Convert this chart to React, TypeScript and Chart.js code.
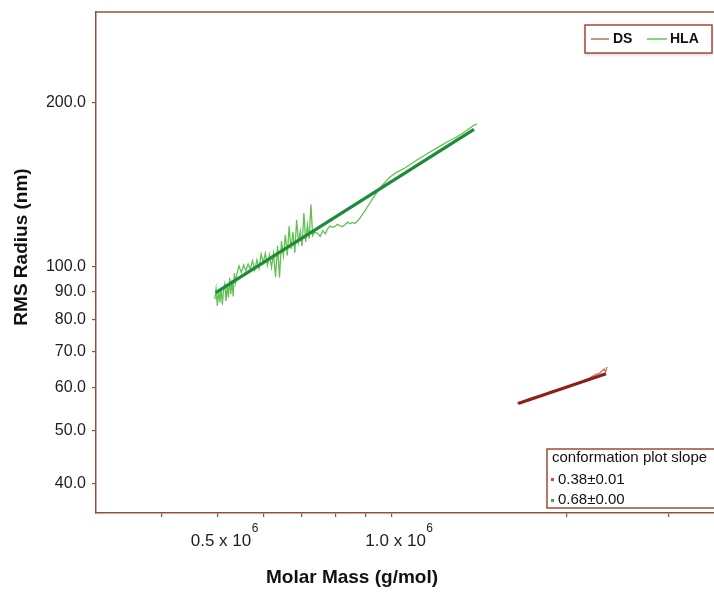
import React, { useEffect, useRef } from "react";
import { Chart, registerables } from "chart.js";

Chart.register(...registerables);

// Molar mass in units of 10^6 g/mol, RMS radius in nm
const hlaMass = [
  0.495, 0.4975, 0.5, 0.5025, 0.505, 0.5075, 0.51, 0.5125, 0.515, 0.5175, 0.52, 0.5225, 0.525, 0.5275, 0.53,
  0.5325, 0.535, 0.5375, 0.54, 0.545, 0.55, 0.555, 0.56, 0.565, 0.57,
  0.575, 0.58, 0.585, 0.59, 0.595, 0.6, 0.605, 0.61, 0.615, 0.62, 0.625, 0.63, 0.635, 0.64, 0.645, 0.65,
  0.655, 0.66, 0.665, 0.67, 0.675, 0.68, 0.685, 0.69, 0.695, 0.7, 0.705, 0.71, 0.715, 0.72, 0.725, 0.73,
  0.735, 0.745, 0.752, 0.76, 0.768, 0.775, 0.782, 0.79, 0.798, 0.805, 0.813, 0.822, 0.83, 0.838, 0.846,
  0.855, 0.863, 0.872, 0.881, 0.898, 0.916, 0.935, 0.954, 0.973, 0.992, 1.02, 1.053, 1.104, 1.163, 1.21,
  1.244, 1.284, 1.326, 1.363, 1.385, 1.401,
];
const hlaRadius = [
  87.2, 91.0, 84.8, 90.2, 86.0, 91.5, 85.2, 90.8, 93.0, 86.5, 92.8, 87.8, 95.4, 89.0, 94.6,
  88.2, 97.4, 93.5, 96.8, 100.3, 97.5, 100.7, 98.3, 101.1, 99.0,
  102.6, 98.6, 102.9, 99.2, 105.5, 101.7, 105.8, 100.6, 105.2, 99.7, 105.8, 95.8, 109.3, 95.6, 111.4, 104.7,
  114.5, 104.9, 118.6, 107.8, 115.8, 106.1, 122.0, 110.9, 116.2, 109.1, 125.5, 111.1, 119.4, 112.6, 130.0, 114.1,
  115.6, 115.2, 113.6, 116.4, 114.9, 117.5, 118.8, 118.1, 118.6, 119.6, 119.0, 118.5, 119.4, 120.7, 119.9,
  120.6, 120.0, 121.2, 122.9, 126.5, 130.9, 135.4, 139.5, 143.0, 146.1, 149.2, 151.8, 157.0, 162.4, 166.5,
  169.4, 172.3, 176.0, 179.7, 182.0, 182.8,
];
const hlaFitMass = [0.497, 1.385];
const hlaFitRadius = [89.6, 178.7];

const dsMass = [
  1.643, 1.67, 1.696, 1.73, 1.764, 1.8, 1.835, 1.872, 1.91, 1.948, 1.987, 2.028, 2.068, 2.11, 2.151,
  2.195, 2.239, 2.284, 2.32, 2.335, 2.348,
];
const dsRadius = [
  56.2, 56.5, 56.8, 57.3, 57.7, 58.0, 58.3, 58.9, 59.3, 59.6, 60.0, 60.5, 60.9, 61.3, 61.9,
  62.5, 63.3, 63.8, 64.9, 64.2, 65.5,
];
const dsFitMass = [1.651, 2.339];
const dsFitRadius = [56.1, 63.6];

const seriesNames = ["DS", "HLA"];
const slopeTitle = "conformation plot slope";
const slopeTexts = ["0.38\u00b10.01", "0.68\u00b10.00"];

const xTicks = [0.4, 0.5, 0.6, 0.7, 0.8, 0.9, 1, 2, 3];
const xLabeledTicks = [0.5, 1.0];
const xLabelTexts = ["0.5 x 10", "1.0 x 10"];
const xExponent = "6";
const yTicks = [40, 50, 60, 70, 80, 90, 100, 200];

const X_MIN = 0.3089;
const X_MAX = 3.591;
const Y_MIN = 35.31;
const Y_MAX = 293.5;

const FONT = '"Liberation Sans", Arial, Helvetica, sans-serif';
const AXIS = "#8f5040";
const HLA_RAW = "#62c050";
const HLA_FIT = "#1d8b3b";
const DS_RAW = "#c9685e";
const DS_FIT = "#8a2216";
const DS_LEG = "#c9918a";
const HLA_LEG = "#86d486";

const toPts = (xs: number[], ys: number[]) => xs.map((x, i) => ({ x, y: ys[i] }));

const zeroPad = (s: any) => {
  s.paddingTop = 0;
  s.paddingBottom = 0;
  s.paddingLeft = 0;
  s.paddingRight = 0;
};

const decor = {
  id: "decor",
  afterDraw(chart: any) {
    const { ctx, chartArea: ca, scales } = chart;
    ctx.save();
    ctx.strokeStyle = AXIS;
    ctx.lineWidth = 1.5;
    ctx.beginPath();
    ctx.moveTo(ca.left, ca.top);
    ctx.lineTo(ca.right, ca.top);
    ctx.stroke();

    const xs = scales.x;
    ctx.fillStyle = "#1e1e1e";
    ctx.textAlign = "left";
    ctx.textBaseline = "alphabetic";
    xLabeledTicks.forEach((v, i) => {
      const px = xs.getPixelForValue(v);
      ctx.font = `17px ${FONT}`;
      const w1 = ctx.measureText(xLabelTexts[i]).width;
      ctx.font = `12px ${FONT}`;
      const w2 = ctx.measureText(xExponent).width;
      const start = px - (w1 + w2) / 2 + 7;
      ctx.font = `17px ${FONT}`;
      ctx.fillText(xLabelTexts[i], start, 546);
      ctx.font = `12px ${FONT}`;
      ctx.fillText(xExponent, start + w1 + 0.5, 532);
    });

    ctx.fillStyle = "#111";
    ctx.font = `bold 19px ${FONT}`;
    ctx.textAlign = "center";
    ctx.textBaseline = "middle";
    ctx.fillText("Molar Mass (g/mol)", 352, 578);
    ctx.save();
    ctx.translate(22, 247);
    ctx.rotate(-Math.PI / 2);
    ctx.fillText("RMS Radius (nm)", 0, 0);
    ctx.restore();

    ctx.save();
    ctx.shadowColor = "rgba(0,0,0,0.18)";
    ctx.shadowBlur = 3;
    ctx.shadowOffsetY = 2;
    ctx.fillStyle = "#fff";
    ctx.fillRect(585, 25, 127, 28);
    ctx.restore();
    ctx.strokeStyle = "#a04a3a";
    ctx.lineWidth = 1.5;
    ctx.strokeRect(585, 25, 127, 28);
    ctx.lineWidth = 2;
    ctx.strokeStyle = DS_LEG;
    ctx.beginPath();
    ctx.moveTo(591, 39);
    ctx.lineTo(609, 39);
    ctx.stroke();
    ctx.strokeStyle = HLA_LEG;
    ctx.beginPath();
    ctx.moveTo(647, 39);
    ctx.lineTo(667, 39);
    ctx.stroke();
    ctx.fillStyle = "#111";
    ctx.font = `bold 14px ${FONT}`;
    ctx.textAlign = "left";
    ctx.textBaseline = "middle";
    ctx.fillText(seriesNames[0], 613, 39.5);
    ctx.fillText(seriesNames[1], 670, 39.5);

    ctx.fillStyle = "#fff";
    ctx.fillRect(547, 449, 175, 59);
    ctx.strokeStyle = "#a04a3a";
    ctx.lineWidth = 1.5;
    ctx.strokeRect(547, 449, 175, 59);
    ctx.fillStyle = "#111";
    ctx.font = `15px ${FONT}`;
    ctx.fillText(slopeTitle, 552, 458);
    ctx.fillText(slopeTexts[0], 558, 479.5);
    ctx.fillText(slopeTexts[1], 558, 500);
    ctx.fillStyle = "#e04a30";
    ctx.fillRect(551, 478, 3, 3);
    ctx.fillStyle = "#35b545";
    ctx.fillRect(551, 499, 3, 3);
    ctx.restore();
  },
};

export default function App() {
  const ref = useRef<HTMLCanvasElement>(null);
  useEffect(() => {
    document.body.style.margin = "0";
    document.body.style.overflow = "hidden";
    const chart = new Chart(ref.current as HTMLCanvasElement, {
      type: "scatter",
      data: {
        datasets: [
          { label: "HLA fit", data: toPts(hlaFitMass, hlaFitRadius), showLine: true, borderColor: HLA_FIT, borderWidth: 3.2, pointRadius: 0, order: 0 },
          { label: "DS fit", data: toPts(dsFitMass, dsFitRadius), showLine: true, borderColor: DS_FIT, borderWidth: 3.2, pointRadius: 0, order: 0 },
          { label: "HLA", data: toPts(hlaMass, hlaRadius), showLine: true, borderColor: HLA_RAW, borderWidth: 1.3, pointRadius: 0, order: 1 },
          { label: "DS", data: toPts(dsMass, dsRadius), showLine: true, borderColor: DS_RAW, borderWidth: 1.3, pointRadius: 0, order: 1 },
        ],
      },
      options: {
        responsive: true,
        maintainAspectRatio: false,
        animation: false,
        layout: { autoPadding: false, padding: { top: 12, right: 0, left: 0, bottom: 0 } },
        plugins: { legend: { display: false }, tooltip: { enabled: false } },
        scales: {
          x: {
            type: "logarithmic",
            bounds: "data",
            min: X_MIN,
            max: X_MAX,
            afterBuildTicks: (s: any) => {
              s.ticks = xTicks.map((v) => ({ value: v }));
            },
            afterFit: (s: any) => {
              s.height = 83;
              zeroPad(s);
            },
            ticks: { callback: () => "", autoSkip: false, font: { size: 17, family: FONT } },
            grid: { drawOnChartArea: false, drawTicks: true, tickLength: 4, color: AXIS, lineWidth: 1.2 },
            border: { display: true, color: AXIS, width: 1.5 },
          },
          y: {
            type: "logarithmic",
            bounds: "data",
            min: Y_MIN,
            max: Y_MAX,
            afterBuildTicks: (s: any) => {
              s.ticks = yTicks.map((v) => ({ value: v }));
            },
            afterFit: (s: any) => {
              s.width = 96;
              zeroPad(s);
            },
            ticks: {
              callback: (v: any) => Number(v).toFixed(1),
              autoSkip: false,
              color: "#1e1e1e",
              padding: 6,
              font: { size: 16, family: FONT },
            },
            grid: { drawOnChartArea: false, drawTicks: true, tickLength: 4, color: AXIS, lineWidth: 1.2 },
            border: { display: true, color: AXIS, width: 1.5 },
          },
        },
      },
      plugins: [decor],
    } as any);
    return () => chart.destroy();
  }, []);
  return (
    <div style={{ position: "relative", width: 714, height: 596 }}>
      <canvas ref={ref} />
    </div>
  );
}
